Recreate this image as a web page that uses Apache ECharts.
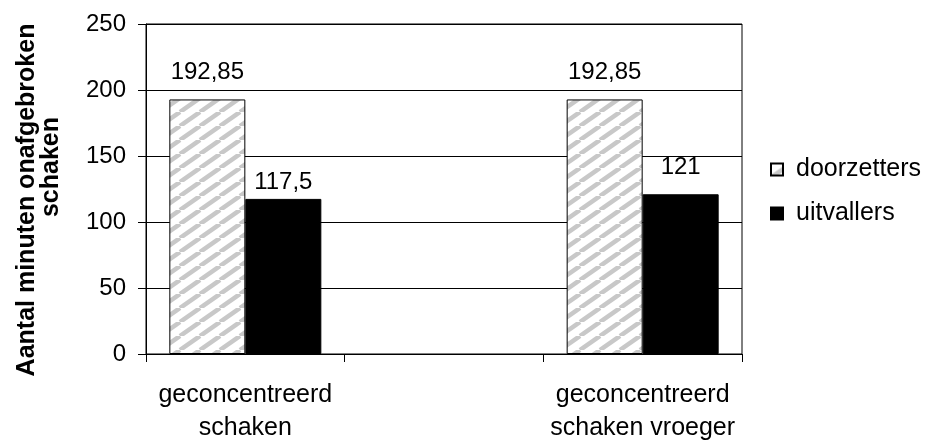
<!DOCTYPE html>
<html>
<head>
<meta charset="utf-8">
<script src="https://cdn.jsdelivr.net/npm/echarts@6/dist/echarts.min.js"></script>
<style>
  html, body { margin: 0; padding: 0; background: #ffffff; }
  #chart { width: 927px; height: 441px; }
</style>
</head>
<body>
<div id="chart"></div>
<script>
// Categories along the x axis (the middle slot is an empty spacer column)
const categories = ['geconcentreerd\nschaken', '', 'geconcentreerd\nschaken vroeger'];
// Minutes of uninterrupted chess per group
const doorzetters = [192.85, null, 192.85];
const uitvallers = [117.5, null, 121];
// Distance of each value label above its bar
const doorzettersLabelGap = [15, 0, 15];
const uitvallersLabelGap = [5, 0, 15];
const yTicks = { min: 0, max: 250, interval: 50 };
const seriesNames = ['doorzetters', 'uitvallers'];

const FONT = '"Liberation Sans", Arial, sans-serif';
const FS = 24;

// Light grey diagonal hatch used for the "doorzetters" bars
function makeHatch() {
  const w = 20, h = 14;
  const c = document.createElement('canvas');
  c.width = w; c.height = h;
  const ctx = c.getContext('2d');
  ctx.fillStyle = '#ffffff';
  ctx.fillRect(0, 0, w, h);
  ctx.strokeStyle = '#c8c8c8';
  ctx.lineWidth = 4.5;
  for (let k = -1; k <= 1; k++) {
    ctx.beginPath();
    ctx.moveTo(k * w, h);
    ctx.lineTo(k * w + w, 0);
    ctx.stroke();
  }
  return c;
}
const hatch = { image: makeHatch(), repeat: 'repeat' };

function withGaps(values, gaps) {
  return values.map((v, i) => v == null ? null : {
    value: v,
    label: { distance: gaps[i] }
  });
}

const labelFmt = p => String(p.value).replace('.', ',');

const chart = echarts.init(document.getElementById('chart'), null, { renderer: 'canvas' });
chart.setOption({
  animation: false,
  backgroundColor: '#ffffff',
  textStyle: { fontFamily: FONT, color: '#000' },
  grid: {
    left: 146, right: 185, top: 24, bottom: 87,
    containLabel: false,
    outerBoundsMode: 'none',
    show: true, borderColor: '#000', borderWidth: 1, backgroundColor: 'transparent'
  },
  legend: {
    orient: 'vertical',
    left: 765, top: 152,
    itemWidth: 12, itemHeight: 12,
    itemGap: 19,
    icon: 'rect',
    textStyle: { fontFamily: FONT, fontSize: 25, color: '#000', padding: [0, 0, 0, 8] },
    data: seriesNames
  },
  xAxis: {
    type: 'category',
    data: categories,
    axisLine: { lineStyle: { color: '#000', width: 1 } },
    axisTick: { show: true, interval: 0, length: 8, alignWithLabel: false, lineStyle: { color: '#000' } },
    axisLabel: { interval: 0, fontFamily: FONT, fontSize: 25, color: '#000', lineHeight: 33, margin: 25 }
  },
  yAxis: {
    type: 'value',
    min: yTicks.min, max: yTicks.max, interval: yTicks.interval,
    axisLine: { show: true, lineStyle: { color: '#000', width: 1 } },
    axisTick: { show: true, length: 8, lineStyle: { color: '#000' } },
    axisLabel: { fontFamily: FONT, fontSize: FS, color: '#000', margin: 20 },
    splitLine: { show: true, lineStyle: { color: '#000', width: 1 } }
  },
  graphic: [
    {
      type: 'text', x: 27, y: 200, rotation: Math.PI / 2,
      style: { text: 'Aantal minuten onafgebroken', font: 'bold 25px ' + FONT, fill: '#000', align: 'center', verticalAlign: 'middle' }
    },
    {
      type: 'text', x: 51, y: 167, rotation: Math.PI / 2,
      style: { text: 'schaken', font: 'bold 25px ' + FONT, fill: '#000', align: 'center', verticalAlign: 'middle' }
    }
  ],
  series: [
    {
      name: seriesNames[0],
      type: 'bar',
      data: withGaps(doorzetters, doorzettersLabelGap),
      barWidth: 76,
      barGap: '0%',
      itemStyle: { color: hatch, borderColor: '#000', borderWidth: 1 },
      label: { show: true, position: 'top', fontFamily: FONT, fontSize: FS, color: '#000', formatter: labelFmt }
    },
    {
      name: seriesNames[1],
      type: 'bar',
      data: withGaps(uitvallers, uitvallersLabelGap),
      barWidth: 76,
      barGap: '0%',
      itemStyle: { color: '#000', borderColor: '#000', borderWidth: 1 },
      label: { show: true, position: 'top', fontFamily: FONT, fontSize: FS, color: '#000', formatter: labelFmt }
    }
  ]
});
</script>
</body>
</html>
